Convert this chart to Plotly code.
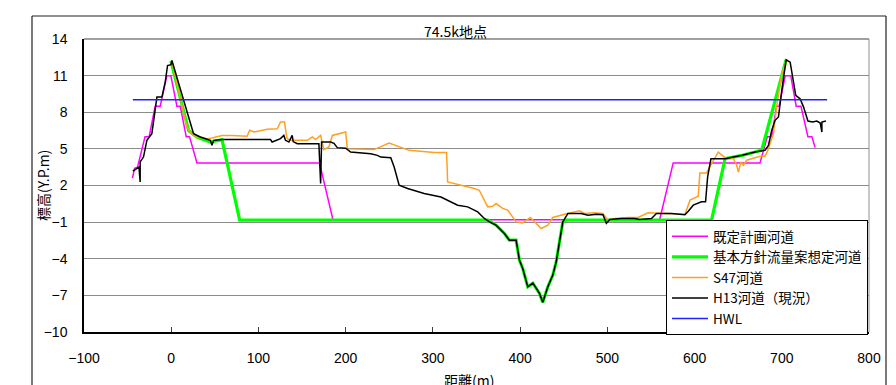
import plotly.graph_objects as go

# Cross-section at 74.5k: distance (m) vs. elevation (Y.P. m)

plan_x = [-44.5, -42, -38.7, -30, -25.3, -18.4, -12.6, -5, -0.4, 6.5, 10.3, 17.2, 21, 29.5,
          170, 185.4, 560, 575.5, 675, 683.5, 688.5, 694, 697, 704, 710.3, 716.5, 722,
          730, 734.5, 738.3]
plan_y = [2.6, 3.4, 3.5, 6.0, 6.0, 8.5, 8.5, 11.0, 11.0, 8.5, 8.5, 6.0, 6.0, 3.85,
          3.85, -0.8, -0.8, 3.85, 3.85, 6.0, 6.0, 8.5, 8.5, 11.0, 11.0, 8.5, 8.5,
          6.0, 6.0, 5.1]

design_x = [-0.4, 19.9, 29.5, 44.8, 58.2, 78.5, 363, 372.4, 382, 387.7, 395.4, 399.2, 403,
            408.8, 414.6, 418.4, 422.2, 426, 431.8, 437.5, 441.4, 445.2, 449, 452.9,
            619.5, 635, 654.6, 669.3, 677, 705]
design_y = [12.2, 6.5, 5.97, 5.56, 5.76, -0.84, -0.84, -1.25, -1.93, -2.48, -2.48, -4.1, -4.8,
            -6.3, -6.0, -6.4, -6.84, -7.57, -6.3, -5.34, -4.25, -2.6, -0.98, -0.84,
            -0.84, 4.2, 4.47, 4.74, 4.9, 12.3]

s47_x = [1, 18, 21.8, 29.5, 33.3, 40.9, 46.7, 58.2, 69.7, 86.9, 90, 94.6, 110, 121.5, 125.3,
         129.9, 131.8, 133, 136.8, 156, 161.7, 165.5, 171.3, 173.2, 175, 180.8, 184.7, 200,
         201.9, 232.6, 249.8, 272.8, 301.5, 315.7, 316.9, 347.5, 353.2, 362.9, 368.6, 372.4,
         380, 385.8, 395.4, 403, 411.8, 424.1, 431.8, 437.5, 450.9, 468.2, 474, 485.4, 495,
         500.8, 508.4, 523.8, 535.2, 546.7, 560, 589, 594.8, 604.2, 606.1, 613.8, 619.5,
         627.2, 634.9, 644.5, 648.3, 650.2, 653.2, 656, 659.8, 675, 680.8, 684.7, 690.4,
         694.3, 700, 705.7]
s47_y = [12.1, 6.8, 6.38, 5.92, 5.97, 5.84, 5.89, 6.1, 6.1, 6.03, 6.52, 6.38, 6.6, 6.65, 7.2,
         7.2, 6.25, 5.84, 5.7, 5.7, 5.97, 5.76, 6.1, 5.6, 4.94, 5.15, 6.1, 6.38,
         5.0, 4.94, 5.48, 4.88, 4.7, 4.7, 2.29, 1.75, 1.61, 0.25, 0.3, 0.52,
         0.12, -0.02, -0.98, -1.06, -0.62, -1.52, -1.25, -0.62, -0.35, -0.08, -0.29, -0.24, -0.29,
         -0.84, -0.7, -0.62, -0.62, -0.24, -0.29, -0.35, 0.8, 1.12, 3.03, 3.03, 3.8,
         4.74, 4.28, 4.2, 3.66, 3.1, 3.93, 3.66, 4.07, 4.4, 4.4, 5.0, 6.25,
         8.56, 11.15, 12.24]

h13_x = [-44, -39.4, -37, -35.6, -35.6, -31.8, -27.9, -22.2, -16.4, -10.7, -8.8, -6.9, -4.2,
         -0.3, 0.8, 14, 25.6, 33.3, 44.8, 46.7, 48.7, 58.2, 113.8, 115.7, 125.3, 129.1, 131,
         134.9, 138.7, 139.8, 144.5, 169.3, 171.3, 172.4, 182.8, 186.6, 190.4, 200, 205.7,
         228.7, 236.4, 240.2, 251.7, 255.6, 261.3, 271, 290, 309.2, 328.4, 339.9, 351.4, 359,
         364.8, 372.4, 382, 387.7, 395.4, 399.2, 403, 408.8, 414.6, 418.4, 422.2, 426, 431.8,
         437.5, 441.4, 445.2, 449, 454.8, 470, 477.8, 487.4, 495, 498.9, 502.7, 516.1, 531.4,
         537.1, 550.6, 556.3, 573.6, 588.9, 592.8, 598.5, 608, 612.6, 615, 618.8, 635, 654.6,
         669.3, 680.8, 684.7, 688.5, 692.3, 696.2, 700, 705, 709.6, 713.4, 716, 721, 725, 730,
         735.3, 740.2, 744.1, 746, 746, 750.6]
h13_y = [3.17, 3.39, 3.5, 2.29, 3.93, 4.33, 5.7, 6.25, 9.24, 9.24, 9.93, 10.47, 11.83,
         11.9, 12.24, 8.97, 6.25, 5.97, 5.7, 5.29, 5.7, 5.76, 5.76, 5.56, 5.84, 6.1, 5.7,
         5.56, 6.1, 5.6, 5.43, 5.43, 2.16, 5.56, 5.56, 5.45, 5.1, 5.05, 4.74,
         4.6, 4.47, 4.33, 4.28, 3.52, 2.02, 1.75, 1.34, 1.06, 0.39, 0.25, -0.16, -0.7,
         -0.98, -1.25, -1.93, -2.48, -2.48, -4.1, -4.8, -6.3, -6.0, -6.4, -6.84, -7.57, -6.3,
         -5.34, -4.25, -2.6, -0.98, -0.29, -0.29, -0.43, -0.35, -0.4, -1.1, -0.78, -0.7, -0.7,
         -0.78, -0.7, -0.3, -0.29, -0.4, -0.1, 0.39, 0.66, 0.66, 2.7, 4.2, 4.2, 4.47,
         4.74, 4.88, 5.29, 6.52, 7.34, 7.61, 9.79, 12.3, 12.1, 10.6, 9.38, 9.1, 8.42, 7.28,
         7.2, 7.28, 7.12, 6.38, 7.2, 7.28]

hwl_x = [-44, 752]
hwl_y = [9.03, 9.03]

y_ticks = [-10, -7, -4, -1, 2, 5, 8, 11, 14]

JP = "Noto Sans CJK JP"
NUM = "Liberation Sans"

fig = go.Figure()
fig.add_trace(go.Scatter(x=plan_x, y=plan_y, mode="lines", name="既定計画河道",
                         line=dict(color="#FF00FF", width=1.5)))
fig.add_trace(go.Scatter(x=design_x, y=design_y, mode="lines", name="基本方針流量案想定河道",
                         line=dict(color="#00FF00", width=3.2)))
fig.add_trace(go.Scatter(x=s47_x, y=s47_y, mode="lines", name="S47河道",
                         line=dict(color="#FFA020", width=1.5)))
fig.add_trace(go.Scatter(x=h13_x, y=h13_y, mode="lines", name="H13河道（現況）",
                         line=dict(color="#000000", width=1.5)))
fig.add_trace(go.Scatter(x=hwl_x, y=hwl_y, mode="lines", name="HWL",
                         line=dict(color="#2020FF", width=1.5)))

L, R, T, B = 84, 27, 39, 53
W, H = 896, 385
pw, ph = W - L - R, H - T - B


def px_x(p):
    return (p - L) / pw


def px_y(p):
    return (H - B - p) / ph


fig.update_layout(
    width=W, height=H,
    margin=dict(l=L, r=R, t=T, b=B, pad=0),
    paper_bgcolor="white", plot_bgcolor="white",
    showlegend=True,
    legend=dict(x=px_x(666), y=px_y(220), xanchor="left", yanchor="top",
                bgcolor="white", bordercolor="#000000", borderwidth=1,
                font=dict(family=JP, size=13.5, color="#000000"),
                itemwidth=36, tracegroupgap=0),
    xaxis=dict(range=[-100, 800], dtick=100, tick0=0, showgrid=False, zeroline=False,
               showline=True, linecolor="#000000", linewidth=1.5,
               ticks="inside", ticklen=5, tickcolor="#404040",
               ticklabelstandoff=12,
               tickfont=dict(family=NUM, size=14, color="#000000")),
    yaxis=dict(range=[-10, 14], tickvals=y_ticks, showgrid=True, gridcolor="#8c8c8c",
               gridwidth=1, zeroline=False, showline=True, linecolor="#000000",
               linewidth=1.5, ticks="", ticklabelstandoff=12,
               tickfont=dict(family=NUM, size=14, color="#000000")),
)

# plot frame (top and right edges) and outer chart border
fig.add_shape(type="line", xref="paper", yref="paper", x0=0, x1=1, y0=1, y1=1,
              line=dict(color="#404040", width=1))
fig.add_shape(type="line", xref="paper", yref="paper", x0=1, x1=1, y0=0, y1=1,
              line=dict(color="#909090", width=1))
fig.add_shape(type="line", xref="paper", yref="paper", x0=px_x(32), x1=px_x(32),
              y0=px_y(400), y1=px_y(16), line=dict(color="#202020", width=1.2))
fig.add_shape(type="line", xref="paper", yref="paper", x0=px_x(32), x1=px_x(886),
              y0=px_y(16), y1=px_y(16), line=dict(color="#202020", width=1.2))
fig.add_shape(type="line", xref="paper", yref="paper", x0=px_x(886), x1=px_x(886),
              y0=px_y(400), y1=px_y(16), line=dict(color="#202020", width=1.2))

fig.add_annotation(text="74.5k地点", xref="paper", yref="paper", x=px_x(455), y=px_y(31),
                   xanchor="center", yanchor="middle", showarrow=False,
                   font=dict(family=JP, size=14, color="#000000"))
fig.add_annotation(text="標高(Y.P.m)", xref="paper", yref="paper", x=px_x(43), y=px_y(186),
                   xanchor="center", yanchor="middle", showarrow=False, textangle=-90,
                   font=dict(family=JP, size=14, color="#000000"))
fig.add_annotation(text="距離(m)", xref="paper", yref="paper", x=px_x(469), y=px_y(380),
                   xanchor="center", yanchor="middle", showarrow=False,
                   font=dict(family=JP, size=14, color="#000000"))

fig.write_html("out.html")
